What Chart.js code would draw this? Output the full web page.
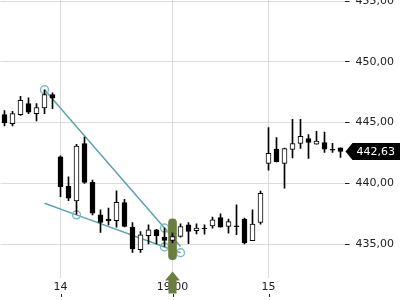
<!DOCTYPE html>
<html>
<head>
<meta charset="utf-8">
<script src="https://cdn.jsdelivr.net/npm/chart.js@4.4.1/dist/chart.umd.min.js"></script>
<style>
    html, body { margin: 0; padding: 0; background: #ffffff; }
    #wrap { width: 400px; height: 300px; }
</style>
</head>
<body>
<div id="wrap"><canvas id="priceChart" width="400" height="300"></canvas></div>
<script>
// OHLC values, one per candle
const opens  = [445.66, 444.92, 445.66, 446.56, 445.74, 446.20, 447.30, 442.18, 439.78, 438.55,
                443.28, 440.08, 437.40, 437.05, 436.93, 438.41, 436.39, 434.53, 435.68, 436.17,
                435.57, 435.30, 435.62, 436.58, 436.09, 436.32, 436.50, 437.18, 436.44, 436.50,
                437.05, 435.27, 436.77, 441.64, 442.81, 441.64, 442.79, 443.28, 443.69, 443.22,
                443.36, 442.80, 442.92];
const highs  = [446.00, 445.93, 447.16, 447.05, 446.56, 447.70, 447.46, 442.26, 440.54, 443.22,
                443.80, 440.27, 437.81, 437.95, 439.39, 438.69, 436.77, 436.03, 436.58, 436.20,
                436.31, 435.90, 436.66, 436.77, 436.66, 436.58, 437.21, 437.48, 437.05, 438.22,
                437.13, 437.81, 439.37, 444.59, 443.77, 442.90, 445.27, 445.27, 444.02, 444.29,
                444.23, 443.30, 442.92];
const lows   = [444.72, 444.72, 445.60, 445.74, 445.13, 445.74, 446.15, 438.90, 438.57, 437.45,
                440.00, 437.40, 435.95, 436.58, 436.39, 436.40, 434.31, 434.31, 435.00, 435.00,
                434.80, 435.08, 435.57, 435.02, 435.84, 435.82, 436.31, 436.39, 435.90, 435.76,
                435.00, 435.27, 436.64, 441.09, 441.77, 439.59, 442.10, 442.87, 442.05, 443.22,
                442.54, 442.54, 442.13];
const closes = [444.97, 445.74, 446.83, 445.87, 446.23, 447.30, 447.02, 439.72, 438.77, 443.06,
                440.08, 437.54, 436.77, 436.93, 438.44, 436.44, 434.59, 435.76, 436.17, 435.68,
                435.30, 435.62, 436.44, 436.03, 436.31, 436.24, 436.99, 436.39, 436.85, 436.42,
                435.08, 436.64, 439.18, 442.46, 441.77, 442.87, 443.28, 443.88, 443.36, 443.47,
                442.81, 442.72, 442.63];

// time axis: only three labelled candles
const tickIndex = [7, 21, 33];
const tickText = ['14', '19:00', '15'];

// price axis ticks
const priceTicks = [435, 440, 445, 450, 455];

// drawn trend lines (candle index -> price) and where the circles sit
const upperLine = { 5: 447.70, 20: 436.31, 22: 434.79 };
const upperMarks = [5, 20];
const lowerLine = { 5: 438.36, 9: 437.40, 20: 434.76, 22: 434.28 };
const lowerMarks = [9, 20, 22];

// highlighted candle (vertical marker) and its price span
const markerIndex = 21;
const markerSpan = [433.71, 437.07];

const teal = '#5aa5aa';
const olive = '#6c7e3f';
const textColor = '#222222';
const gridColor = '#dcdcdc';

const categories = opens.map((_, i) => i);
const toSeries = (obj) => categories.map(i => (obj[i] !== undefined ? obj[i] : null));
const fmt = (v) => v.toFixed(2).replace('.', ',');

Chart.defaults.font.family = 'DejaVu Sans';
Chart.defaults.font.size = 11;
Chart.defaults.color = textColor;

// extra bits drawn on top: tick marks under the time labels, the arrow and the price tag
const overlayPlugin = {
    id: 'overlay',
    afterDraw(chart) {
        const ctx = chart.ctx;
        const x = chart.scales.x;
        const y = chart.scales.y;

        ctx.save();
        ctx.strokeStyle = textColor;
        ctx.lineWidth = 1;
        tickIndex.forEach(i => {
            const px = Math.round(x.getPixelForValue(i)) + 0.5;
            ctx.beginPath();
            ctx.moveTo(px, 294);
            ctx.lineTo(px, 297);
            ctx.stroke();
        });

        // up arrow under the marked candle
        const ax = x.getPixelForValue(markerIndex);
        ctx.fillStyle = olive;
        ctx.beginPath();
        ctx.moveTo(ax, 271.5);
        ctx.lineTo(ax + 7.5, 280.5);
        ctx.lineTo(ax + 4, 280.5);
        ctx.lineTo(ax + 4, 293.5);
        ctx.lineTo(ax - 4, 293.5);
        ctx.lineTo(ax - 4, 280.5);
        ctx.lineTo(ax - 7.5, 280.5);
        ctx.closePath();
        ctx.fill();

        // last price tag
        const last = closes[closes.length - 1];
        const py = y.getPixelForValue(last);
        const left = chart.chartArea.right + 1;
        ctx.fillStyle = '#000000';
        ctx.beginPath();
        ctx.moveTo(left, py);
        ctx.lineTo(left + 7, py - 8.5);
        ctx.lineTo(400, py - 8.5);
        ctx.lineTo(400, py + 8.5);
        ctx.lineTo(left + 7, py + 8.5);
        ctx.closePath();
        ctx.fill();
        ctx.fillStyle = '#ffffff';
        ctx.textBaseline = 'middle';
        ctx.textAlign = 'left';
        ctx.font = '11px "DejaVu Sans"';
        ctx.fillText(fmt(last), left + 11, py + 0.5);
        ctx.restore();
    }
};

new Chart(document.getElementById('priceChart').getContext('2d'), {
    data: {
        labels: categories,
        datasets: [
            {
                type: 'bar',
                label: 'body',
                data: opens.map((o, i) => [o, closes[i]]),
                backgroundColor: closes.map((c, i) => (c >= opens[i] ? '#ffffff' : '#000000')),
                borderColor: '#000000',
                borderWidth: 1,
                borderSkipped: false,
                barThickness: 5,
                grouped: false,
                order: 0
            },
            {
                type: 'bar',
                label: 'wick',
                data: lows.map((l, i) => [l, highs[i]]),
                backgroundColor: '#000000',
                barThickness: 1,
                grouped: false,
                order: 1
            },
            {
                type: 'bar',
                label: 'marker',
                data: categories.map(i => (i === markerIndex ? markerSpan : null)),
                backgroundColor: olive,
                barThickness: 8,
                borderRadius: 4,
                borderSkipped: false,
                grouped: false,
                order: 2
            },
            {
                type: 'line',
                label: 'upper',
                data: toSeries(upperLine),
                spanGaps: true,
                borderColor: teal,
                borderWidth: 1.5,
                pointRadius: (c) => (upperMarks.includes(c.dataIndex) ? 4 : 0),
                pointBorderColor: '#7fbcc0',
                pointBorderWidth: 1.5,
                pointBackgroundColor: 'rgba(0,0,0,0)',
                order: 3
            },
            {
                type: 'line',
                label: 'lower',
                data: toSeries(lowerLine),
                spanGaps: true,
                borderColor: teal,
                borderWidth: 1.5,
                pointRadius: (c) => (lowerMarks.includes(c.dataIndex) ? 4 : 0),
                pointBorderColor: '#7fbcc0',
                pointBorderWidth: 1.5,
                pointBackgroundColor: 'rgba(0,0,0,0)',
                order: 3
            }
        ]
    },
    options: {
        responsive: false,
        animation: false,
        layout: { padding: { left: 0.5, right: 0, top: 0, bottom: 0 } },
        plugins: {
            legend: { display: false },
            tooltip: { enabled: false }
        },
        scales: {
            x: {
                type: 'category',
                offset: true,
                border: { display: false },
                grid: {
                    offset: false,
                    drawTicks: false,
                    color: (c) => (tickIndex.includes(c.index) ? gridColor : 'rgba(0,0,0,0)')
                },
                ticks: {
                    autoSkip: false,
                    maxRotation: 0,
                    padding: 3,
                    color: textColor,
                    callback: (value, index) => {
                        const k = tickIndex.indexOf(index);
                        return k >= 0 ? tickText[k] : '';
                    }
                },
                afterFit(scale) {
                    scale.height = 22;
                    scale.paddingLeft = 0;
                    scale.paddingRight = 0;
                }
            },
            y: {
                position: 'right',
                min: 432.2,
                max: 455.1,
                border: { display: false },
                grid: {
                    color: gridColor,
                    tickColor: textColor,
                    tickLength: 5
                },
                ticks: {
                    padding: 6,
                    color: textColor,
                    callback: (v) => fmt(v)
                },
                afterBuildTicks(scale) {
                    scale.ticks = priceTicks.map(v => ({ value: v }));
                },
                afterFit(scale) {
                    scale.width = 55.5;
                    scale.paddingTop = 0;
                    scale.paddingBottom = 0;
                }
            }
        }
    },
    plugins: [overlayPlugin]
});
</script>
</body>
</html>
